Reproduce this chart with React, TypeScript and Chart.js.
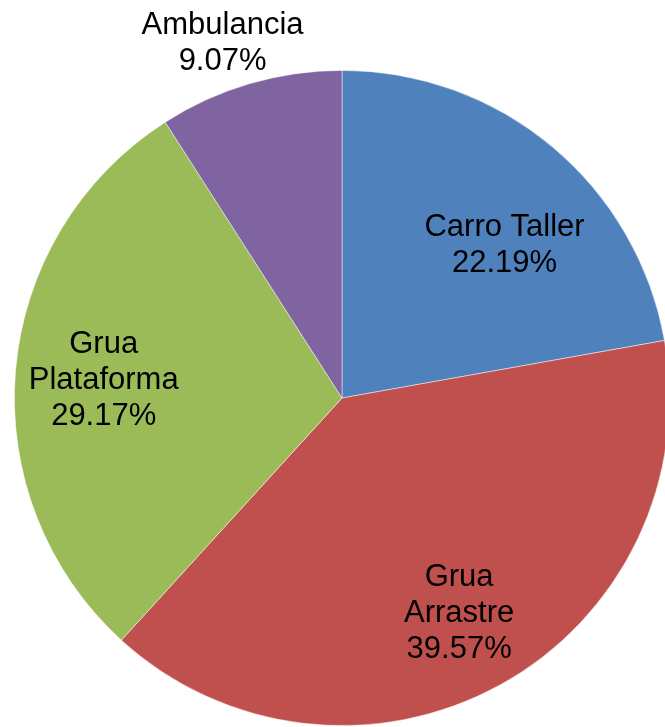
import React, { useEffect, useRef } from "react";
import { Chart, registerables } from "chart.js";

Chart.register(...registerables);

const categories: string[][] = [["Carro Taller"], ["Grua", "Arrastre"], ["Grua", "Plataforma"], ["Ambulancia"]];
const values: number[] = [22.19, 39.57, 29.17, 9.07];
const percentLabels: string[] = ["22.19%", "39.57%", "29.17%", "9.07%"];
const colors: string[] = ["#4F81BD", "#C0504D", "#9BBB59", "#8064A2"];
// label placement within each slice: fraction of the slice's angle, and fraction of radius
const labelAngleFrac: number[] = [0.58, 0.5, 0.5, 0.434];
const labelRadiusFrac: number[] = [0.686, 0.74, 0.73, 1.15];

const labelPlugin = {
  id: "sliceLabels",
  afterDatasetsDraw(chart: any) {
    const ctx = chart.ctx;
    const meta = chart.getDatasetMeta(0);
    ctx.save();
    ctx.font = '31px "Liberation Sans", Arial, sans-serif';
    ctx.fillStyle = "#000000";
    ctx.textAlign = "center";
    ctx.textBaseline = "middle";
    const lineH = 36;
    meta.data.forEach((arc: any, i: number) => {
      const { x, y, startAngle, endAngle, outerRadius } = arc.getProps(
        ["x", "y", "startAngle", "endAngle", "outerRadius"],
        true
      );
      const a = startAngle + (endAngle - startAngle) * labelAngleFrac[i];
      const r = outerRadius * labelRadiusFrac[i];
      const cx = x + Math.cos(a) * r;
      const cy = y + Math.sin(a) * r;
      const lines = [...categories[i], percentLabels[i]];
      const top = cy - ((lines.length - 1) * lineH) / 2 + 3;
      lines.forEach((t, k) => ctx.fillText(t, cx, top + k * lineH));
    });
    ctx.restore();
  },
};

export default function App() {
  const ref = useRef<HTMLCanvasElement>(null);
  useEffect(() => {
    if (!ref.current) return;
    const chart = new Chart(ref.current, {
      type: "pie",
      data: {
        labels: categories.map((c) => c.join(" ")),
        datasets: [
          {
            data: values,
            backgroundColor: colors,
            borderColor: "rgba(255,255,255,0.6)",
            borderWidth: 0.8,
          },
        ],
      },
      options: {
        animation: false,
        responsive: false,
        maintainAspectRatio: false,
        layout: { padding: { left: 14, right: 14, top: 70, bottom: 14 } },
        plugins: {
          legend: { display: false },
          tooltip: { enabled: false },
        },
      },
      plugins: [labelPlugin],
    });
    return () => chart.destroy();
  }, []);
  return (
    <div
      style={{
        position: "fixed",
        left: 0,
        top: 0,
        width: 665,
        height: 727,
        overflow: "hidden",
        background: "#ffffff",
      }}
    >
      <canvas ref={ref} width={684} height={740} style={{ display: "block", width: 684, height: 740 }} />
    </div>
  );
}
